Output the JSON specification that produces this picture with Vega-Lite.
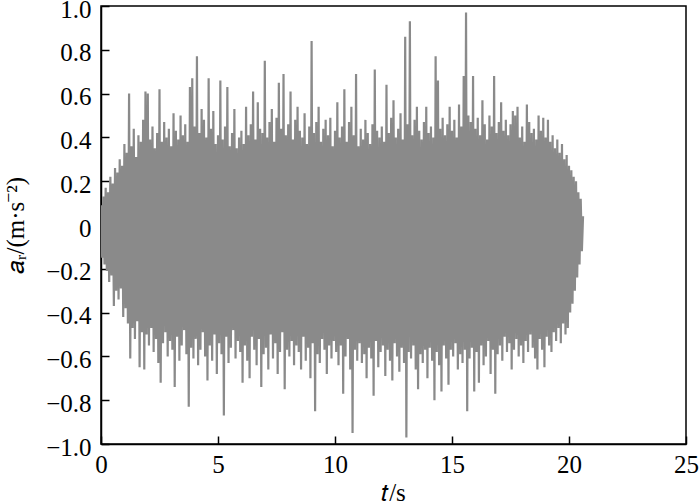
{
"$schema": "https://vega.github.io/schema/vega-lite/v6.json",
"width": 585, "height": 438,
"autosize": "none",
"padding": {"left": 101, "top": 6, "right": 14, "bottom": 60},
"background": "white",
"config": {"view": {"stroke": "black", "strokeWidth": 1.5}, "font": "Liberation Serif"},
"data": {"values": [
{"t":0,"a":0.09},{"t":0.05,"a":-0.15},{"t":0.1,"a":0.13},{"t":0.15,"a":-0.18},{"t":0.2,"a":0.17},{"t":0.25,"a":-0.21},{"t":0.3,"a":0.15},{"t":0.35,"a":-0.26},{"t":0.4,"a":0.22},{"t":0.45,"a":-0.23},{"t":0.5,"a":0.19},{"t":0.55,"a":-0.37},{"t":0.6,"a":0.26},{"t":0.65,"a":-0.30},{"t":0.7,"a":0.24},{"t":0.75,"a":-0.34},{"t":0.8,"a":0.30},{"t":0.85,"a":-0.29},{"t":0.9,"a":0.27},{"t":0.95,"a":-0.42},
{"t":1,"a":0.37},{"t":1.05,"a":-0.38},{"t":1.1,"a":0.33},{"t":1.15,"a":-0.45},{"t":1.2,"a":0.60},{"t":1.25,"a":-0.61},{"t":1.3,"a":0.36},{"t":1.35,"a":-0.47},{"t":1.4,"a":0.44},{"t":1.45,"a":-0.52},{"t":1.5,"a":0.31},{"t":1.55,"a":-0.44},{"t":1.6,"a":0.41},{"t":1.65,"a":-0.65},{"t":1.7,"a":0.38},{"t":1.75,"a":-0.49},{"t":1.8,"a":0.48},{"t":1.85,"a":-0.66},{"t":1.9,"a":0.61},{"t":1.95,"a":-0.50},
{"t":2,"a":0.60},{"t":2.05,"a":-0.55},{"t":2.1,"a":0.39},{"t":2.15,"a":-0.47},{"t":2.2,"a":0.45},{"t":2.25,"a":-0.58},{"t":2.3,"a":0.35},{"t":2.35,"a":-0.52},{"t":2.4,"a":0.42},{"t":2.45,"a":-0.63},{"t":2.5,"a":0.62},{"t":2.55,"a":-0.72},{"t":2.6,"a":0.38},{"t":2.65,"a":-0.54},{"t":2.7,"a":0.47},{"t":2.75,"a":-0.49},{"t":2.8,"a":0.40},{"t":2.85,"a":-0.60},{"t":2.9,"a":0.44},{"t":2.95,"a":-0.53},
{"t":3,"a":0.36},{"t":3.05,"a":-0.57},{"t":3.1,"a":0.51},{"t":3.15,"a":-0.74},{"t":3.2,"a":0.43},{"t":3.25,"a":-0.51},{"t":3.3,"a":0.39},{"t":3.35,"a":-0.62},{"t":3.4,"a":0.50},{"t":3.45,"a":-0.55},{"t":3.5,"a":0.41},{"t":3.55,"a":-0.48},{"t":3.6,"a":0.46},{"t":3.65,"a":-0.59},{"t":3.7,"a":0.38},{"t":3.75,"a":-0.83},{"t":3.8,"a":0.63},{"t":3.85,"a":-0.56},{"t":3.9,"a":0.67},{"t":3.95,"a":-0.61},
{"t":4,"a":0.45},{"t":4.05,"a":-0.52},{"t":4.1,"a":0.77},{"t":4.15,"a":-0.64},{"t":4.2,"a":0.42},{"t":4.25,"a":-0.57},{"t":4.3,"a":0.53},{"t":4.35,"a":-0.49},{"t":4.4,"a":0.48},{"t":4.45,"a":-0.60},{"t":4.5,"a":0.40},{"t":4.55,"a":-0.71},{"t":4.6,"a":0.67},{"t":4.65,"a":-0.55},{"t":4.7,"a":0.44},{"t":4.75,"a":-0.62},{"t":4.8,"a":0.52},{"t":4.85,"a":-0.50},{"t":4.9,"a":0.37},{"t":4.95,"a":-0.68},
{"t":5,"a":0.41},{"t":5.05,"a":-0.54},{"t":5.1,"a":0.66},{"t":5.15,"a":-0.59},{"t":5.2,"a":0.39},{"t":5.25,"a":-0.87},{"t":5.3,"a":0.45},{"t":5.35,"a":-0.51},{"t":5.4,"a":0.63},{"t":5.45,"a":-0.63},{"t":5.5,"a":0.36},{"t":5.55,"a":-0.56},{"t":5.6,"a":0.42},{"t":5.65,"a":-0.48},{"t":5.7,"a":0.53},{"t":5.75,"a":-0.61},{"t":5.8,"a":0.35},{"t":5.85,"a":-0.53},{"t":5.9,"a":0.40},{"t":5.95,"a":-0.58},
{"t":6,"a":0.43},{"t":6.05,"a":-0.72},{"t":6.1,"a":0.37},{"t":6.15,"a":-0.55},{"t":6.2,"a":0.54},{"t":6.25,"a":-0.62},{"t":6.3,"a":0.41},{"t":6.35,"a":-0.70},{"t":6.4,"a":0.46},{"t":6.45,"a":-0.51},{"t":6.5,"a":0.61},{"t":6.55,"a":-0.57},{"t":6.6,"a":0.39},{"t":6.65,"a":-0.64},{"t":6.7,"a":0.56},{"t":6.75,"a":-0.52},{"t":6.8,"a":0.44},{"t":6.85,"a":-0.74},{"t":6.9,"a":0.42},{"t":6.95,"a":-0.59},
{"t":7,"a":0.75},{"t":7.05,"a":-0.56},{"t":7.1,"a":0.40},{"t":7.15,"a":-0.66},{"t":7.2,"a":0.47},{"t":7.25,"a":-0.50},{"t":7.3,"a":0.53},{"t":7.35,"a":-0.61},{"t":7.4,"a":0.38},{"t":7.45,"a":-0.54},{"t":7.5,"a":0.49},{"t":7.55,"a":-0.68},{"t":7.6,"a":0.65},{"t":7.65,"a":-0.58},{"t":7.7,"a":0.44},{"t":7.75,"a":-0.49},{"t":7.8,"a":0.69},{"t":7.85,"a":-0.75},{"t":7.9,"a":0.41},{"t":7.95,"a":-0.57},
{"t":8,"a":0.46},{"t":8.05,"a":-0.60},{"t":8.1,"a":0.61},{"t":8.15,"a":-0.53},{"t":8.2,"a":0.39},{"t":8.25,"a":-0.64},{"t":8.3,"a":0.48},{"t":8.35,"a":-0.55},{"t":8.4,"a":0.54},{"t":8.45,"a":-0.58},{"t":8.5,"a":0.43},{"t":8.55,"a":-0.66},{"t":8.6,"a":0.40},{"t":8.65,"a":-0.51},{"t":8.7,"a":0.51},{"t":8.75,"a":-0.62},{"t":8.8,"a":0.37},{"t":8.85,"a":-0.56},{"t":8.9,"a":0.45},{"t":8.95,"a":-0.70},
{"t":9,"a":0.84},{"t":9.05,"a":-0.54},{"t":9.1,"a":0.42},{"t":9.15,"a":-0.85},{"t":9.2,"a":0.47},{"t":9.25,"a":-0.59},{"t":9.3,"a":0.54},{"t":9.35,"a":-0.63},{"t":9.4,"a":0.38},{"t":9.45,"a":-0.52},{"t":9.5,"a":0.44},{"t":9.55,"a":-0.57},{"t":9.6,"a":0.48},{"t":9.65,"a":-0.68},{"t":9.7,"a":0.41},{"t":9.75,"a":-0.55},{"t":9.8,"a":0.49},{"t":9.85,"a":-0.61},{"t":9.9,"a":0.36},{"t":9.95,"a":-0.53},
{"t":10,"a":0.43},{"t":10.05,"a":-0.58},{"t":10.1,"a":0.56},{"t":10.15,"a":-0.64},{"t":10.2,"a":0.40},{"t":10.25,"a":-0.55},{"t":10.3,"a":0.45},{"t":10.35,"a":-0.77},{"t":10.4,"a":0.62},{"t":10.45,"a":-0.60},{"t":10.5,"a":0.38},{"t":10.55,"a":-0.52},{"t":10.6,"a":0.47},{"t":10.65,"a":-0.66},{"t":10.7,"a":0.54},{"t":10.75,"a":-0.95},{"t":10.8,"a":0.41},{"t":10.85,"a":-0.57},{"t":10.9,"a":0.69},{"t":10.95,"a":-0.62},
{"t":11,"a":0.36},{"t":11.05,"a":-0.54},{"t":11.1,"a":0.44},{"t":11.15,"a":-0.63},{"t":11.2,"a":0.39},{"t":11.25,"a":-0.59},{"t":11.3,"a":0.48},{"t":11.35,"a":-0.70},{"t":11.4,"a":0.42},{"t":11.45,"a":-0.56},{"t":11.5,"a":0.37},{"t":11.55,"a":-0.61},{"t":11.6,"a":0.46},{"t":11.65,"a":-0.78},{"t":11.7,"a":0.71},{"t":11.75,"a":-0.53},{"t":11.8,"a":0.43},{"t":11.85,"a":-0.65},{"t":11.9,"a":0.40},{"t":11.95,"a":-0.58},
{"t":12,"a":0.45},{"t":12.05,"a":-0.55},{"t":12.1,"a":0.38},{"t":12.15,"a":-0.69},{"t":12.2,"a":0.64},{"t":12.25,"a":-0.57},{"t":12.3,"a":0.42},{"t":12.35,"a":-0.62},{"t":12.4,"a":0.49},{"t":12.45,"a":-0.71},{"t":12.5,"a":0.57},{"t":12.55,"a":-0.54},{"t":12.6,"a":0.40},{"t":12.65,"a":-0.60},{"t":12.7,"a":0.44},{"t":12.75,"a":-0.67},{"t":12.8,"a":0.51},{"t":12.85,"a":-0.56},{"t":12.9,"a":0.39},{"t":12.95,"a":-0.63},
{"t":13,"a":0.86},{"t":13.05,"a":-0.97},{"t":13.1,"a":0.46},{"t":13.15,"a":-0.58},{"t":13.2,"a":0.93},{"t":13.25,"a":-0.61},{"t":13.3,"a":0.41},{"t":13.35,"a":-0.55},{"t":13.4,"a":0.48},{"t":13.45,"a":-0.66},{"t":13.5,"a":0.54},{"t":13.55,"a":-0.75},{"t":13.6,"a":0.43},{"t":13.65,"a":-0.59},{"t":13.7,"a":0.39},{"t":13.75,"a":-0.63},{"t":13.8,"a":0.47},{"t":13.85,"a":-0.57},{"t":13.9,"a":0.54},{"t":13.95,"a":-0.70},
{"t":14,"a":0.42},{"t":14.05,"a":-0.56},{"t":14.1,"a":0.45},{"t":14.15,"a":-0.62},{"t":14.2,"a":0.40},{"t":14.25,"a":-0.80},{"t":14.3,"a":0.77},{"t":14.35,"a":-0.58},{"t":14.4,"a":0.66},{"t":14.45,"a":-0.64},{"t":14.5,"a":0.44},{"t":14.55,"a":-0.76},{"t":14.6,"a":0.49},{"t":14.65,"a":-0.55},{"t":14.7,"a":0.41},{"t":14.75,"a":-0.61},{"t":14.8,"a":0.46},{"t":14.85,"a":-0.73},{"t":14.9,"a":0.54},{"t":14.95,"a":-0.57},
{"t":15,"a":0.43},{"t":15.05,"a":-0.60},{"t":15.1,"a":0.48},{"t":15.15,"a":-0.54},{"t":15.2,"a":0.40},{"t":15.25,"a":-0.66},{"t":15.3,"a":0.55},{"t":15.35,"a":-0.59},{"t":15.4,"a":0.45},{"t":15.45,"a":-0.63},{"t":15.5,"a":0.68},{"t":15.55,"a":-0.57},{"t":15.6,"a":0.97},{"t":15.65,"a":-0.85},{"t":15.7,"a":0.50},{"t":15.75,"a":-0.61},{"t":15.8,"a":0.47},{"t":15.85,"a":-0.56},{"t":15.9,"a":0.68},{"t":15.95,"a":-0.76},
{"t":16,"a":0.44},{"t":16.05,"a":-0.58},{"t":16.1,"a":0.49},{"t":16.15,"a":-0.72},{"t":16.2,"a":0.41},{"t":16.25,"a":-0.55},{"t":16.3,"a":0.57},{"t":16.35,"a":-0.64},{"t":16.4,"a":0.46},{"t":16.45,"a":-0.60},{"t":16.5,"a":0.39},{"t":16.55,"a":-0.53},{"t":16.6,"a":0.50},{"t":16.65,"a":-0.68},{"t":16.7,"a":0.45},{"t":16.75,"a":-0.57},{"t":16.8,"a":0.68},{"t":16.85,"a":-0.77},{"t":16.9,"a":0.42},{"t":16.95,"a":-0.59},
{"t":17,"a":0.47},{"t":17.05,"a":-0.55},{"t":17.1,"a":0.56},{"t":17.15,"a":-0.62},{"t":17.2,"a":0.43},{"t":17.25,"a":-0.51},{"t":17.3,"a":0.48},{"t":17.35,"a":-0.58},{"t":17.4,"a":0.41},{"t":17.45,"a":-0.54},{"t":17.5,"a":0.46},{"t":17.55,"a":-0.66},{"t":17.6,"a":0.52},{"t":17.65,"a":-0.57},{"t":17.7,"a":0.50},{"t":17.75,"a":-0.52},{"t":17.8,"a":0.54},{"t":17.85,"a":-0.60},{"t":17.9,"a":0.40},{"t":17.95,"a":-0.55},
{"t":18,"a":0.45},{"t":18.05,"a":-0.63},{"t":18.1,"a":0.38},{"t":18.15,"a":-0.53},{"t":18.2,"a":0.55},{"t":18.25,"a":-0.58},{"t":18.3,"a":0.47},{"t":18.35,"a":-0.50},{"t":18.4,"a":0.42},{"t":18.45,"a":-0.56},{"t":18.5,"a":0.44},{"t":18.55,"a":-0.61},{"t":18.6,"a":0.39},{"t":18.65,"a":-0.66},{"t":18.7,"a":0.50},{"t":18.75,"a":-0.52},{"t":18.8,"a":0.43},{"t":18.85,"a":-0.57},{"t":18.9,"a":0.49},{"t":18.95,"a":-0.65},
{"t":19,"a":0.40},{"t":19.05,"a":-0.51},{"t":19.1,"a":0.48},{"t":19.15,"a":-0.55},{"t":19.2,"a":0.38},{"t":19.25,"a":-0.58},{"t":19.3,"a":0.41},{"t":19.35,"a":-0.49},{"t":19.4,"a":0.35},{"t":19.45,"a":-0.53},{"t":19.5,"a":0.39},{"t":19.55,"a":-0.47},{"t":19.6,"a":0.33},{"t":19.65,"a":-0.54},{"t":19.7,"a":0.37},{"t":19.75,"a":-0.45},{"t":19.8,"a":0.30},{"t":19.85,"a":-0.50},{"t":19.9,"a":0.32},{"t":19.95,"a":-0.47},
{"t":20,"a":0.27},{"t":20.05,"a":-0.40},{"t":20.1,"a":0.25},{"t":20.15,"a":-0.36},{"t":20.2,"a":0.22},{"t":20.25,"a":-0.30},{"t":20.3,"a":0.20},{"t":20.35,"a":-0.24},{"t":20.4,"a":0.15},{"t":20.45,"a":-0.18},{"t":20.5,"a":0.12},{"t":20.55,"a":-0.12},{"t":20.6,"a":0.04}
]},
"mark": {"type": "line", "stroke": "#8a8a8a", "strokeWidth": 2.2, "clip": true},
"encoding": {
"x": {"field": "t", "type": "quantitative", "scale": {"domain": [0, 25], "nice": false},
 "axis": {"values": [0, 5, 10, 15, 20, 25], "title": "𝑡/s", "grid": false, "tickSize": -8, "tickWidth": 1.5, "labelPadding": 16, "domainColor": "black", "domainWidth": 1.5, "tickColor": "black", "labelFont": "Liberation Serif", "labelFontSize": 25, "labelColor": "black", "labelFlush": false, "labelOverlap": false, "titleFont": "Liberation Serif", "titleFontSize": 25, "titleFontWeight": "normal", "titleColor": "black", "titleBaseline": "alphabetic", "titleY": 56, "titleX": 292, "titleAnchor": "middle"}},
"y": {"field": "a", "type": "quantitative", "scale": {"domain": [-1, 1], "nice": false},
 "axis": {"values": [-1, -0.8, -0.6, -0.4, -0.2, 0, 0.2, 0.4, 0.6, 0.8, 1], "labelExpr": "datum.value == 0 ? '0' : format(datum.value, '.1f')", "labelOffset": 3, "title": "𝑎ᵣ/(m·s⁻²)", "grid": false, "tickSize": -8, "tickWidth": 1.5, "labelPadding": 18, "domainColor": "black", "domainWidth": 1.5, "tickColor": "black", "labelFont": "Liberation Serif", "labelFontSize": 25, "labelColor": "black", "labelFlush": false, "labelOverlap": false, "titleFont": "Liberation Serif", "titleFontSize": 25, "titleFontWeight": "normal", "titleColor": "black", "titleBaseline": "alphabetic", "titleAngle": -90, "titleX": -78, "titleY": 219, "titleAnchor": "middle"}}
}
}
